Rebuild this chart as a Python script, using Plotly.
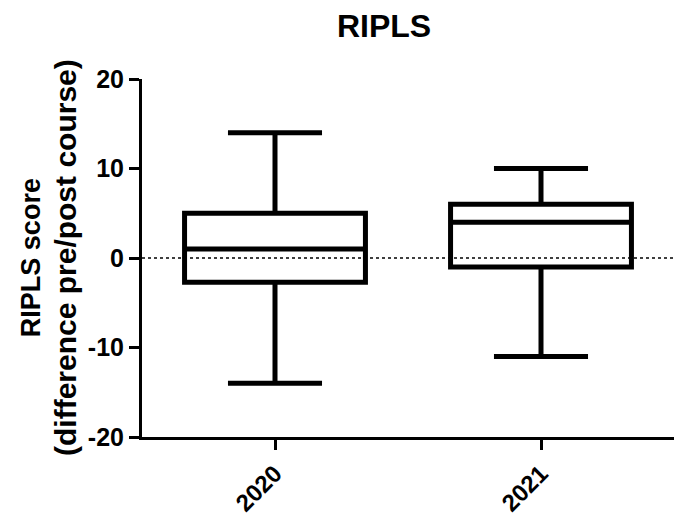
import plotly.graph_objects as go

categories = ["2020", "2021"]
q1 = [-2.7, -1.0]
median = [1.0, 4.0]
q3 = [5.0, 6.0]
lower = [-14.0, -11.0]
upper = [14.0, 10.0]
y_ticks = [-20, -10, 0, 10, 20]

FONT = "Liberation Sans, Arial, sans-serif"

fig = go.Figure()
for i, c in enumerate(categories):
    fig.add_trace(go.Box(
        x=[c], q1=[q1[i]], median=[median[i]], q3=[q3[i]],
        lowerfence=[lower[i]], upperfence=[upper[i]],
        width=0.68, whiskerwidth=0.52,
        line=dict(color="black", width=5),
        fillcolor="rgba(0,0,0,0)",
        boxpoints=False, showlegend=False, hoverinfo="skip",
    ))

fig.add_shape(type="line", xref="paper", yref="y", x0=0, x1=1, y0=0, y1=0,
              line=dict(color="black", width=1.3, dash="dot"), layer="below")

fig.update_layout(
    width=674, height=518,
    margin=dict(l=142, r=0, t=79, b=81),
    plot_bgcolor="white", paper_bgcolor="white",
    font=dict(family=FONT, color="black"),
    title=dict(text="<b>RIPLS</b>", x=384/674, xanchor="center", xref="container",
               y=1 - 26/518, yref="container", yanchor="middle",
               font=dict(size=32, family=FONT, color="black")),
    showlegend=False,
)

fig.update_xaxes(
    type="category", categoryorder="array", categoryarray=categories,
    range=[-0.5, 1.5],
    showline=True, linecolor="black", linewidth=3,
    ticks="outside", ticklen=10, tickwidth=3, tickcolor="black",
    tickangle=-45, tickfont=dict(size=24, family=FONT, color="black", weight="bold"),
    showgrid=False, zeroline=False,
)
fig.update_yaxes(
    range=[-20, 20], tickvals=y_ticks, ticktext=[str(v) for v in y_ticks],
    showline=True, linecolor="black", linewidth=3,
    ticks="outside", ticklen=10, tickwidth=3, tickcolor="black",
    tickfont=dict(size=25, family=FONT, color="black", weight="bold"),
    showgrid=False, zeroline=False,
)

fig.add_annotation(
    text="<span style='font-size:27px'><b>RIPLS score</b></span><br>"
         "<span style='font-size:30px'><b>(difference pre/post course)</b></span>",
    xref="paper", yref="paper", x=(49 - 142) / 532, y=0.5,
    xanchor="center", yanchor="middle", textangle=-90, showarrow=False,
    font=dict(size=28, family=FONT, color="black"),
)

fig.write_html("out.html")
